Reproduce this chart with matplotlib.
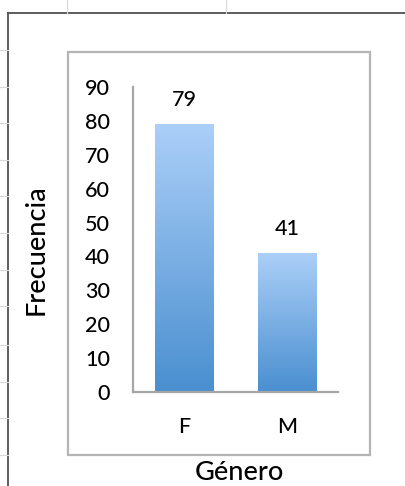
import numpy as np
import matplotlib.pyplot as plt
from matplotlib.colors import LinearSegmentedColormap
from matplotlib.lines import Line2D
from matplotlib.patches import Rectangle

generos = ["F", "M"]
frecuencia = [79, 41]
y_ticks = [0, 10, 20, 30, 40, 50, 60, 70, 80, 90]

plt.rcParams['font.family'] = ['Lato', 'DejaVu Sans']
plt.rcParams['font.weight'] = 500

W, H = 405, 486
fig = plt.figure(figsize=(W / 100, H / 100), dpi=100)
fig.patch.set_facecolor("white")


def fx(px):
    return px / W


def fy(py):
    return 1 - py / H


# spreadsheet frame behind the chart
fig.add_artist(Line2D([fx(8), fx(405)], [fy(13), fy(13)], color="#505050", lw=1.3))
fig.add_artist(Line2D([fx(8), fx(8)], [fy(13), fy(486)], color="#505050", lw=1.3))
for gx in [67, 226]:
    fig.add_artist(Line2D([fx(gx), fx(gx)], [fy(0), fy(13)], color="#d8d8d8", lw=0.8))
for gy in [50, 87, 123, 160, 196, 233, 270, 306, 345, 382, 418, 455]:
    fig.add_artist(Line2D([fx(0), fx(8)], [fy(gy), fy(gy)], color="#d8d8d8", lw=0.8))

# chart area border
fig.add_artist(Rectangle((fx(68), fy(455)), fx(370) - fx(68), fy(52) - fy(455),
                         fill=False, edgecolor="#b4b4b4", lw=1.6))

ax = fig.add_axes([fx(133), fy(392), fx(338) - fx(133), fy(87) - fy(392)])

x = np.arange(len(generos))
bars = ax.bar(x, frecuencia, width=0.57, color="none", edgecolor="none")

cmap = LinearSegmentedColormap.from_list("grad", ["#4a8fd0", "#abcff8"])
grad = np.linspace(0, 1, 256).reshape(-1, 1)
for b in bars:
    x0, y0 = b.get_x(), b.get_y()
    im = ax.imshow(grad, cmap=cmap, origin="lower", aspect="auto",
                   extent=[x0, x0 + b.get_width(), y0, y0 + b.get_height()],
                   zorder=2)
    im.set_clip_path(b)

ax.bar_label(bars, labels=[str(v) for v in frecuencia], padding=10, fontsize=15.5)

ax.set_xlim(-0.5, 1.5)
ax.set_ylim(0, 90)
ax.set_yticks(y_ticks)
ax.set_xticks(x)
ax.set_xticklabels(generos)
ax.tick_params(axis="y", length=0, pad=16.5, labelsize=15.5)
ax.tick_params(axis="x", length=0, pad=18, labelsize=15.5)

for s in ["top", "right"]:
    ax.spines[s].set_visible(False)
for s in ["left", "bottom"]:
    ax.spines[s].set_color("#a6a6a6")
    ax.spines[s].set_linewidth(1.6)

fig.text(fx(36), fy(250), "Frecuencia", rotation=90, ha="center", va="center", fontsize=19.5)
fig.text(fx(239), fy(472), "Género", ha="center", va="center", fontsize=19.5)

fig.savefig("out.png", dpi=100)
